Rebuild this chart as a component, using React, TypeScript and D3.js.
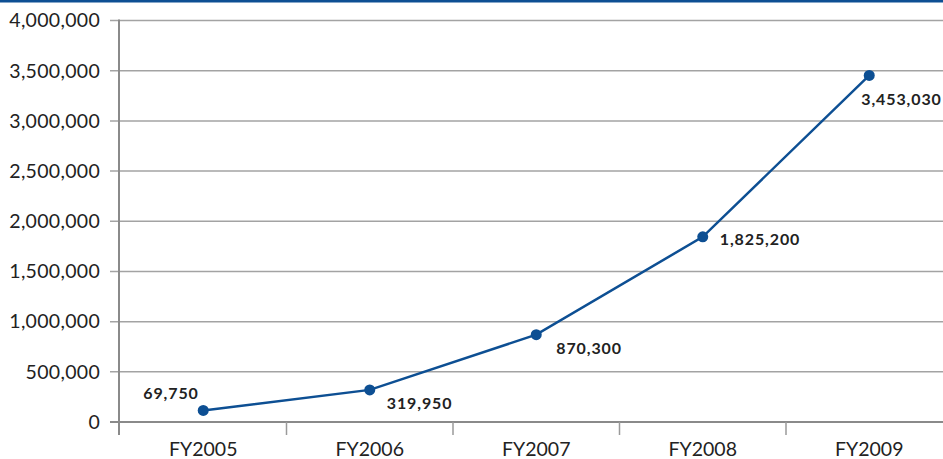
import React, { useRef, useEffect } from 'react';
import * as d3 from 'd3';

// Fiscal years and plotted values
const categories = ['FY2005', 'FY2006', 'FY2007', 'FY2008', 'FY2009'];
const values = [115000, 319950, 870300, 1845000, 3453030];
const valueLabels = ['69,750', '319,950', '870,300', '1,825,200', '3,453,030'];
const yTicks = [0, 500000, 1000000, 1500000, 2000000, 2500000, 3000000, 3500000, 4000000];

const W = 943;
const H = 459;
const FONT = 'Lato, "Open Sans", sans-serif';
const BLUE = '#0d4f93';

export default function App() {
  const svgRef = useRef<SVGSVGElement>(null);

  useEffect(() => {
    if (!svgRef.current) return;
    const svg = d3.select(svgRef.current);
    svg.selectAll('*').remove();

    const left = 120;
    const bandW = 166.5;

    const x = d3.scaleBand<string>()
      .domain(categories)
      .range([left, left + bandW * categories.length]);

    const y = d3.scaleLinear()
      .domain([0, 4000000])
      .range([422, 20.5]);

    // top blue rule
    svg.append('rect')
      .attr('x', 0).attr('y', 0)
      .attr('width', W).attr('height', 2.5)
      .attr('fill', BLUE);

    // gridlines
    svg.append('g')
      .selectAll('line')
      .data(yTicks)
      .enter().append('line')
      .attr('x1', left - 10)
      .attr('x2', W)
      .attr('y1', d => y(d))
      .attr('y2', d => y(d))
      .attr('stroke', d => (d === 0 ? '#8a8a8a' : '#a3a3a3'))
      .attr('stroke-width', d => (d === 0 ? 2 : 1.5));

    // y labels
    const fmt = d3.format(',');
    svg.append('g')
      .selectAll('text')
      .data(yTicks)
      .enter().append('text')
      .attr('x', 100)
      .attr('y', d => y(d))
      .attr('dy', '0.35em')
      .attr('text-anchor', 'end')
      .attr('font-family', FONT)
      .attr('font-size', 19.5)
      .attr('letter-spacing', 0.3)
      .attr('fill', '#222')
      .text(d => fmt(d));

    // y axis line
    svg.append('line')
      .attr('x1', left - 1).attr('x2', left - 1)
      .attr('y1', y(4000000) - 1).attr('y2', 435)
      .attr('stroke', '#8a8a8a')
      .attr('stroke-width', 2);

    // category tick marks
    svg.append('g')
      .selectAll('line')
      .data(categories.slice(1))
      .enter().append('line')
      .attr('x1', d => x(d)!)
      .attr('x2', d => x(d)!)
      .attr('y1', 422)
      .attr('y2', 435)
      .attr('stroke', '#9a9a9a')
      .attr('stroke-width', 1.5);

    // category labels
    svg.append('g')
      .selectAll('text')
      .data(categories)
      .enter().append('text')
      .attr('x', d => x(d)! + x.bandwidth() / 2)
      .attr('y', 456)
      .attr('text-anchor', 'middle')
      .attr('font-family', FONT)
      .attr('font-size', 19.5)
      .attr('fill', '#222')
      .text(d => d);

    const pts = categories.map((c, i) => [x(c)! + x.bandwidth() / 2, y(values[i])] as [number, number]);

    svg.append('path')
      .attr('d', d3.line()(pts))
      .attr('fill', 'none')
      .attr('stroke', BLUE)
      .attr('stroke-width', 2.5);

    svg.append('g')
      .selectAll('circle')
      .data(pts)
      .enter().append('circle')
      .attr('cx', d => d[0])
      .attr('cy', d => d[1])
      .attr('r', 5.5)
      .attr('fill', BLUE);

    // value labels: first sits above-left, the rest below-right
    const offsets: [number, number][] = [[-60, -17], [17, 14], [20, 14], [17, 3], [-8, 24]];
    svg.append('g')
      .selectAll('text')
      .data(pts)
      .enter().append('text')
      .attr('x', (d, i) => d[0] + offsets[i][0])
      .attr('y', (d, i) => d[1] + offsets[i][1])
      .attr('dy', '0.35em')
      .attr('font-family', FONT)
      .attr('font-weight', 'bold')
      .attr('font-size', 16)
      .attr('letter-spacing', 0.9)
      .attr('fill', '#222')
      .text((d, i) => valueLabels[i]);
  }, []);

  return (
    <svg
      ref={svgRef}
      width={W}
      height={H}
      style={{ position: 'absolute', left: 0, top: 0, background: '#fff' }}
    />
  );
}
